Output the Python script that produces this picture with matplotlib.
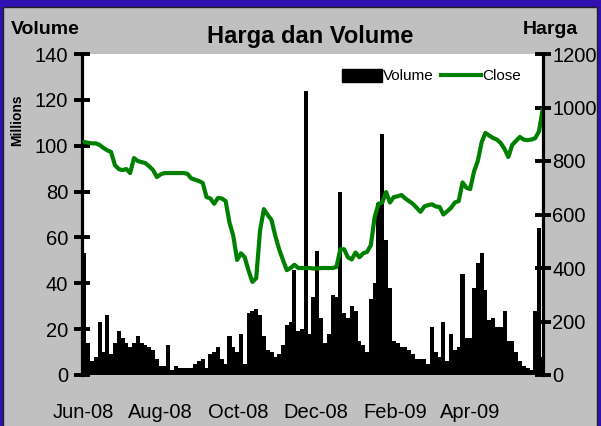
import matplotlib
matplotlib.use("Agg")
import matplotlib.pyplot as plt
import matplotlib.dates as mdates
from matplotlib import font_manager
from matplotlib.patches import Rectangle, Patch
from matplotlib.lines import Line2D
import pandas as pd

# -----------------------------
# Data (one point every 3 days)
# -----------------------------
dates = pd.date_range("2008-06-02", periods=121, freq="3D")

volume = [
    53, 14, 6, 8, 23, 10, 26, 9, 14, 19,
    16, 14, 12, 14, 17, 14, 13, 12, 11, 7,
    4, 4, 13, 2, 4, 3, 3, 3, 3, 5,
    6, 7, 3, 9, 10, 12, 7, 5, 17, 12,
    10, 18, 5, 27, 28, 29, 26, 17, 11, 10,
    8, 9, 13, 22, 23, 46, 19, 20, 124, 18,
    34, 54, 25, 14, 18, 35, 34, 80, 27, 25,
    30, 28, 15, 13, 10, 33, 40, 75, 105, 59,
    38, 15, 14, 12, 12, 11, 9, 7, 7, 7,
    5, 21, 10, 8, 23, 6, 18, 11, 12, 44,
    16, 16, 38, 49, 53, 37, 24, 25, 21, 21,
    28, 15, 15, 10, 6, 4, 3, 2, 28, 64,
    8,
]

close = [
    871, 868, 866, 866, 860, 849, 840, 834, 785, 770,
    766, 770, 755, 811, 800, 796, 792, 780, 766, 740,
    750, 755, 755, 755, 755, 755, 755, 752, 735, 730,
    725, 718, 665, 660, 640, 662, 660, 650, 570, 520,
    430, 455, 440, 390, 348, 362, 540, 620, 598, 580,
    520, 470, 430, 392, 400, 412, 400, 400, 400, 400,
    398, 398, 400, 400, 400, 400, 404, 470, 470, 440,
    432, 458, 440, 455, 460, 485, 590, 640, 645, 684,
    645, 665, 668, 673, 660, 650, 640, 625, 610, 630,
    635, 638, 630, 628, 600, 612, 625, 645, 650, 720,
    700, 695, 760, 800, 870, 905, 895, 886, 880, 867,
    845, 815, 860, 875, 890, 880, 878, 880, 885, 910,
    995,
]

vol_ticks = [0, 20, 40, 60, 80, 100, 120, 140]
price_ticks = [0, 200, 400, 600, 800, 1000, 1200]

# -----------------------------
# Fonts / colours
# -----------------------------
names = {f.name for f in font_manager.fontManager.ttflist}
if "Liberation Sans Narrow" in names:
    NARROW, TICK_FS, LEG_FS = "Liberation Sans Narrow", 17, 12
else:
    NARROW, TICK_FS, LEG_FS = "Liberation Sans", 14.5, 11
plt.rcParams["font.family"] = ["Liberation Sans", "DejaVu Sans"]

BLUE = "#3010b0"
GRAY = "#c0c0c0"
GREEN = "#008000"

fig = plt.figure(figsize=(6.01, 4.26), dpi=100)
fig.patch.set_facecolor(BLUE)
fig.patches.append(Rectangle((3 / 601, -0.02), 594 / 601, 1.02 - 7 / 426,
                             transform=fig.transFigure, facecolor=GRAY,
                             edgecolor="#202020", linewidth=1, zorder=-10))

ax = fig.add_axes([82 / 601, 1 - 375 / 426, 461 / 601, 321 / 426])
ax.set_facecolor("white")
ax2 = ax.twinx()

ax.bar(dates, volume, width=3.2, color="black", linewidth=0, zorder=2)
ax2.plot(dates, close, color=GREEN, linewidth=3, solid_capstyle="round")

x0 = mdates.date2num(pd.Timestamp("2008-06-01")) - 0.8
ax.set_xlim(x0, x0 + 461 / 1.2735)
ax.set_ylim(0, 140)
ax2.set_ylim(0, 1200)
ax.set_yticks(vol_ticks)
ax2.set_yticks(price_ticks)

ax.xaxis.set_major_locator(mdates.MonthLocator(bymonth=[2, 4, 6, 8, 10, 12]))
ax.xaxis.set_major_formatter(mdates.DateFormatter("%b-%y"))

for a in (ax, ax2):
    for s in ("top", "bottom"):
        a.spines[s].set_visible(False)
    a.spines["left"].set_linewidth(2.3)
    a.spines["right"].set_linewidth(2.3)
ax.spines["right"].set_visible(False)
ax2.spines["left"].set_visible(False)

ax.tick_params(axis="y", direction="inout", length=12, width=2.8, pad=4,
               labelsize=TICK_FS, labelfontfamily=NARROW)
ax2.tick_params(axis="y", direction="inout", length=12, width=2.8, pad=0.5,
                labelsize=TICK_FS, labelfontfamily=NARROW)
ax.tick_params(axis="x", length=0, pad=20, labelsize=TICK_FS,
               labelfontfamily=NARROW)

# legend
handles = [Patch(facecolor="black", edgecolor="black"),
           Line2D([], [], color=GREEN, linewidth=3)]
ax2.legend(handles, ["Volume", "Close"], loc="center right",
           bbox_to_anchor=(0.952, 0.931), ncol=2, frameon=False,
           prop={"family": NARROW, "size": LEG_FS}, handlelength=2.6,
           handleheight=0.9, handletextpad=0.1, columnspacing=0.45,
           borderpad=0, borderaxespad=0)

# titles / labels
fig.text(310 / 601, 1 - 37 / 426, "Harga dan Volume", ha="center", va="center",
         fontsize=17, fontweight="bold")
fig.text(45 / 601, 1 - 29 / 426, "Volume", ha="center", va="center",
         fontsize=14, fontweight="bold")
fig.text(550 / 601, 1 - 29 / 426, "Harga", ha="center", va="center",
         fontsize=14, fontweight="bold")
fig.text(17 / 601, 1 - 120 / 426, "Millions", ha="center", va="center",
         rotation=90, fontsize=10, fontweight="bold")

fig.savefig("out.png", dpi=100, facecolor=fig.get_facecolor())
